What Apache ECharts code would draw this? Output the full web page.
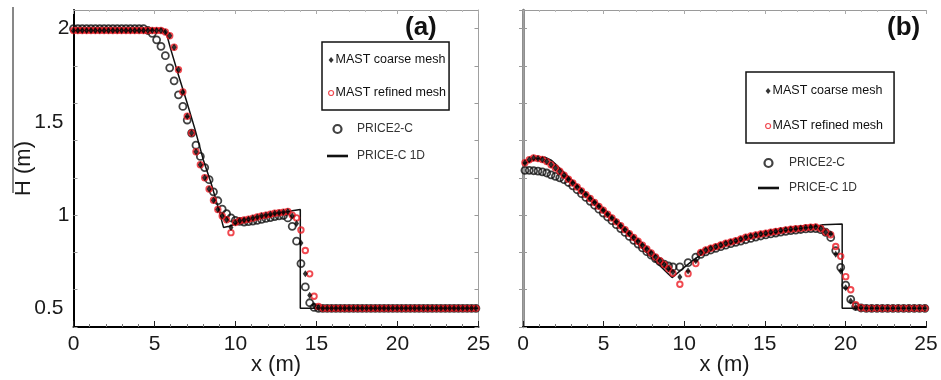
<!DOCTYPE html>
<html>
<head>
<meta charset="utf-8">
<script src="https://cdn.jsdelivr.net/npm/echarts@6.0.0/dist/echarts.min.js"></script>
<style>
  html, body { margin: 0; padding: 0; background: #fff; }
  #chart { width: 941px; height: 380px; }
</style>
</head>
<body>
<div id="chart"></div>
<script>
// ---- Panel (a): dam-break water depth H along the channel ----
const gridA = [0,0.27,0.54,0.81,1.08,1.35,1.62,1.89,2.16,2.43,2.7,2.97,3.24,3.51,3.78,4.05,4.32,4.59,4.86,5.13,
  5.4,5.67,5.94,6.21,6.48,6.75,7.02,7.29,7.56,7.83,8.1,8.37,8.64,8.91,9.18,9.45,9.72,9.99,10.26,10.53,
  10.8,11.07,11.34,11.61,11.88,12.15,12.42,12.69,12.96,13.23,13.5,13.77,14.04,14.31,14.58,14.85,15.12,15.39,15.66,15.93,
  16.2,16.47,16.74,17.01,17.28,17.55,17.82,18.09,18.36,18.63,18.9,19.17,19.44,19.71,19.98,20.25,20.52,20.79,21.06,21.33,
  21.6,21.87,22.14,22.41,22.68,22.95,23.22,23.49,23.76,24.03,24.3,24.57,24.84];

const coarseA = [1.99,1.99,1.99,1.99,1.99,1.99,1.99,1.99,1.99,1.99,1.99,1.99,1.99,1.99,1.99,1.99,1.99,1.99,1.99,1.99,1.99,
  1.982,1.962,1.9,1.78,1.66,1.53,1.44,1.34,1.27,1.2,1.14,1.08,1.03,0.995,0.975,0.934,0.96,0.97,0.974,
  0.978,0.984,0.99,0.996,1.0,1.005,1.01,1.013,1.016,1.02,0.995,0.955,0.85,0.685,0.57,0.515,0.503,
  0.5,0.5,0.5,0.5,0.5,0.5,0.5,0.5,0.5,0.5,0.5,0.5,0.5,0.5,0.5,0.5,0.5,0.5,0.5,0.5,0.5,0.5,
  0.5,0.5,0.5,0.5,0.5,0.5,0.5,0.5,0.5,0.5,0.5,0.5,0.5,0.5,0.5,0.5];

const refinedA = [1.99,1.99,1.99,1.99,1.99,1.99,1.99,1.99,1.99,1.99,1.99,1.99,1.99,1.99,1.99,1.99,1.99,1.99,1.99,1.99,1.99,
  1.982,1.962,1.9,1.78,1.66,1.53,1.44,1.34,1.27,1.2,1.14,1.08,1.03,0.995,0.975,0.906,0.96,0.97,0.974,
  0.978,0.984,0.99,0.996,1.0,1.005,1.01,1.013,1.016,1.02,1.0,0.985,0.92,0.81,0.685,0.565,0.51,
  0.5,0.5,0.5,0.5,0.5,0.5,0.5,0.5,0.5,0.5,0.5,0.5,0.5,0.5,0.5,0.5,0.5,0.5,0.5,0.5,0.5,0.5,
  0.5,0.5,0.5,0.5,0.5,0.5,0.5,0.5,0.5,0.5,0.5,0.5,0.5,0.5,0.5,0.5];

const price2A = [2.0,2.0,2.0,2.0,2.0,2.0,2.0,2.0,2.0,2.0,2.0,2.0,2.0,2.0,2.0,2.0,2.0,
  1.99,1.975,1.94,1.905,1.855,1.79,1.72,1.645,1.583,1.51,1.44,1.375,1.315,1.255,1.19,1.125,1.077,1.032,1.008,
  0.985,0.972,0.966,0.963,0.965,0.968,0.972,0.977,0.982,0.987,0.992,0.996,0.998,0.985,0.94,0.86,0.74,0.615,0.53,0.505,
  0.5,0.5,0.5,0.5,0.5,0.5,0.5,0.5,0.5,0.5,0.5,0.5,0.5,0.5,0.5,0.5,0.5,0.5,0.5,0.5,0.5,0.5,0.5,
  0.5,0.5,0.5,0.5,0.5,0.5,0.5,0.5,0.5,0.5,0.5,0.5,0.5,0.5,0.5,0.5,0.5,0.5];

const lineA = [[0,2],[5.55,2],[5.75,1.97],[6.0,1.89],[6.5,1.745],[7.0,1.605],[7.5,1.46],[8.0,1.3],[8.5,1.17],
  [9.0,1.02],[9.26,0.934],[9.6,0.94],[10,0.952],[10.5,0.963],[11,0.973],[11.5,0.983],[12,0.993],[12.5,1.003],
  [13,1.013],[13.5,1.023],[14,1.03],[14,0.5],[25,0.5]];

// ---- Panel (b) ----
const gridB = [0.12,0.39,0.66,0.93,1.2,1.47,1.74,2.01,2.28,2.55,2.82,3.09,3.36,3.63,3.9,4.17,4.44,4.71,4.98,5.25,
  5.52,5.79,6.06,6.33,6.6,6.87,7.14,7.41,7.68,7.95,8.22,8.49,8.76,9.03,9.3,
  9.73,10.24,10.72,
  11.03,11.34,11.65,11.96,12.27,12.58,12.89,13.2,13.51,13.82,14.13,14.44,14.75,15.06,15.37,15.68,15.99,16.3,
  16.61,16.92,17.23,17.54,17.85,18.16,18.47,18.78,19.09,19.4,19.71,20.02,20.33,20.64,
  20.97,21.3,21.63,21.96,22.29,22.62,22.95,23.28,23.61,23.94,24.27,24.6,24.93];

const refinedB = [1.281,1.297,1.306,1.303,1.298,1.287,1.27,1.253,1.235,1.214,1.193,1.172,1.151,1.13,1.11,1.089,1.068,1.047,1.026,1.005,
  0.985,0.964,0.943,0.922,0.901,0.88,0.86,0.839,0.818,0.797,0.776,0.755,0.735,0.712,0.688,
  0.629,0.686,0.74,
  0.8,0.813,0.822,0.831,0.84,0.849,0.856,0.863,0.872,0.881,0.888,0.894,0.899,0.903,0.908,0.912,0.917,0.921,
  0.924,0.927,0.929,0.932,0.935,0.936,0.928,0.908,0.895,0.832,0.779,0.67,0.6,0.52,
  0.503,0.5,0.5,0.5,0.5,0.5,0.5,0.5,0.5,0.5,0.5,0.5,0.5];

const coarseB = [1.281,1.297,1.306,1.303,1.298,1.287,1.27,1.253,1.235,1.214,1.193,1.172,1.151,1.13,1.11,1.089,1.068,1.047,1.026,1.005,
  0.985,0.964,0.943,0.922,0.901,0.88,0.86,0.839,0.818,0.797,0.776,0.755,0.735,0.712,0.695,
  0.668,0.7,0.755,
  0.8,0.813,0.822,0.831,0.84,0.849,0.856,0.863,0.872,0.881,0.888,0.894,0.899,0.903,0.908,0.912,0.917,0.921,
  0.924,0.927,0.929,0.932,0.935,0.936,0.928,0.908,0.9,0.79,0.7,0.61,0.54,0.506,
  0.503,0.5,0.5,0.5,0.5,0.5,0.5,0.5,0.5,0.5,0.5,0.5,0.5];

const price2B = [1.24,1.24,1.238,1.236,1.232,1.226,1.216,1.208,1.2,1.19,1.175,1.157,1.136,1.115,1.095,1.074,1.053,1.032,1.011,0.99,
  0.97,0.949,0.928,0.907,0.886,0.865,0.845,0.824,0.804,0.785,0.767,0.75,0.737,0.727,0.722,
  0.722,0.745,0.775,
  0.79,0.803,0.813,0.822,0.831,0.839,0.847,0.854,0.861,0.868,0.875,0.882,0.888,0.894,0.899,0.904,0.909,0.913,
  0.917,0.92,0.923,0.926,0.928,0.928,0.922,0.908,0.88,0.81,0.72,0.625,0.548,0.51,
  0.502,0.5,0.5,0.5,0.5,0.5,0.5,0.5,0.5,0.5,0.5,0.5,0.5];

const lineB = [[0,1.275],[0.5,1.29],[1.0,1.305],[1.36,1.311],[1.78,1.293],[2,1.275],[3,1.191],[4,1.107],[5,1.023],
  [6,0.939],[7,0.855],[8,0.77],[9,0.686],[9.25,0.665],[9.6,0.69],[10,0.72],[10.5,0.755],[11,0.785],[11.5,0.805],
  [12,0.822],[13,0.85],[14,0.875],[15,0.895],[16,0.912],[17,0.925],[18,0.937],[18.6,0.948],[19.8,0.952],[19.8,0.5],[25,0.5]];

const xTicks = { min: 0, max: 25, step: 5 };
const yRange = { min: 0.4, max: 2.1 };
const names = { coarse: 'MAST coarse mesh', refined: 'MAST refined mesh', price2: 'PRICE2-C', price1d: 'PRICE-C 1D' };

const FONT = "'Liberation Sans', Arial, Helvetica, sans-serif";
const RED = '#ec1c24';
const INK = '#1a1a1a';

const zip = (xs, ys) => xs.map((x, i) => [x, ys[i]]);

function bottomX(gi) {
  return {
    gridIndex: gi, type: 'value', position: 'bottom',
    min: xTicks.min, max: xTicks.max, interval: xTicks.step,
    axisLine: { lineStyle: { color: '#000', width: 2 } },
    axisTick: { inside: true, length: 6, lineStyle: { color: '#222', width: 1 } },
    minorTick: { show: true, splitNumber: 5, length: 3, lineStyle: { color: '#777', width: 1 } },
    axisLabel: { fontSize: 21, color: INK, margin: 7, fontFamily: FONT },
    splitLine: { show: false },
    name: 'x (m)', nameLocation: 'middle', nameGap: 27, nameMoveOverlap: false,
    nameTextStyle: { fontSize: 22, color: INK, fontFamily: FONT }
  };
}
function topX(gi) {
  return {
    gridIndex: gi, type: 'value', position: 'top',
    min: xTicks.min, max: xTicks.max, interval: xTicks.step,
    axisLine: { lineStyle: { color: '#9a9a9a', width: 1 } },
    axisTick: { inside: true, length: 4, lineStyle: { color: '#aaa' } },
    minorTick: { show: true, splitNumber: 5, length: 2, lineStyle: { color: '#bbb' } },
    axisLabel: { show: false }, splitLine: { show: false }
  };
}
function tickY(gi, pos, lineColor, lineWidth) {
  return {
    gridIndex: gi, type: 'value', position: pos,
    min: yRange.min, max: yRange.max, interval: 0.2,
    axisLine: { show: true, lineStyle: { color: lineColor, width: lineWidth } },
    axisTick: { inside: true, length: 4, lineStyle: { color: '#999' } },
    axisLabel: { show: false }, splitLine: { show: false }
  };
}
function labelY(gi) {
  return {
    gridIndex: gi, type: 'value', position: 'left',
    min: yRange.min, max: yRange.max, interval: 0.1,
    axisLine: { show: false }, axisTick: { show: false }, splitLine: { show: false },
    axisLabel: {
      fontSize: 21, color: INK, margin: 4, fontFamily: FONT,
      formatter: function (v) {
        const k = Math.round(v * 10);
        if (k % 5 !== 0) return '';
        const t = String(k / 10);
        return t.length > 1 ? '{w|' + t + '}' : t;
      },
      rich: { w: { fontSize: 21, color: INK, fontFamily: FONT, padding: [0, 6, 0, 0] } }
    },
    name: 'H (m)', nameLocation: 'middle', nameRotate: 90, nameGap: 39, nameMoveOverlap: false,
    nameTextStyle: { fontSize: 22, color: INK, fontFamily: FONT }
  };
}

function panelSeries(xi, yi, line, xs, p2, fine, coarse) {
  return [
    { type: 'line', name: names.price1d, xAxisIndex: xi, yAxisIndex: yi, data: line,
      symbol: 'none', itemStyle: { color: '#111' }, lineStyle: { color: '#111', width: 1.5 }, silent: true, z: 2 },
    { type: 'scatter', name: names.price2, xAxisIndex: xi, yAxisIndex: yi, data: zip(xs, p2),
      symbol: 'circle', symbolSize: 7,
      itemStyle: { color: 'rgba(0,0,0,0)', borderColor: '#111', borderWidth: 1.8 }, silent: true, z: 3 },
    { type: 'scatter', name: names.refined, xAxisIndex: xi, yAxisIndex: yi, data: zip(xs, fine),
      symbol: 'circle', symbolSize: 5.5,
      itemStyle: { color: 'rgba(0,0,0,0)', borderColor: RED, borderWidth: 1.9 }, silent: true, z: 4 },
    { type: 'scatter', name: names.coarse, xAxisIndex: xi, yAxisIndex: yi, data: zip(xs, coarse),
      symbol: 'diamond', symbolSize: [5, 7],
      itemStyle: { color: '#000' }, silent: true, z: 5 }
  ];
}

function boxedLegend(left, top, pad, gap) {
  return {
    left: left, top: top, orient: 'vertical', selectedMode: false,
    itemWidth: 5, itemHeight: 6, itemGap: gap, padding: pad,
    borderColor: '#111', borderWidth: 1.5, backgroundColor: '#fff',
    textStyle: { fontFamily: FONT, fontSize: 12.5, color: '#111', lineHeight: 16, padding: [0, 0, 0, -3] },
    data: [
      { name: names.coarse, icon: 'diamond', itemStyle: { color: '#000', borderWidth: 0 } },
      { name: names.refined, icon: 'circle',
        itemStyle: { color: 'rgba(0,0,0,0)', borderColor: RED, borderWidth: 1.2 } }
    ]
  };
}
function plainLegend(left, top, gap, textPad) {
  return {
    left: left, top: top, orient: 'vertical', selectedMode: false,
    itemWidth: 21, itemHeight: 8, itemGap: gap, padding: 0,
    textStyle: { fontFamily: FONT, fontSize: 12, color: '#333', lineHeight: 14, padding: [0, 0, 0, textPad] },
    data: [
      { name: names.price2, icon: 'circle',
        itemStyle: { color: 'rgba(0,0,0,0)', borderColor: '#111', borderWidth: 2.2 } },
      { name: names.price1d, icon: 'path://M0,0H21V2.6H0Z',
        itemStyle: { color: '#111', borderWidth: 0 } }
    ]
  };
}

const option = {
  animation: false,
  backgroundColor: '#fff',
  textStyle: { fontFamily: FONT },
  grid: [
    { left: 73.5, top: 10, width: 405, height: 317, outerBoundsMode: 'none' },
    { left: 523, top: 10, width: 403, height: 317, outerBoundsMode: 'none' }
  ],
  xAxis: [bottomX(0), topX(0), bottomX(1), topX(1)],
  yAxis: [
    tickY(0, 'left', '#000', 2), labelY(0), tickY(0, 'right', '#a0a0a0', 1),
    tickY(1, 'left', '#6a6a6a', 2.5), tickY(1, 'right', '#a0a0a0', 1)
  ],
  title: [
    { text: '(a)', left: 400, top: 10, textStyle: { fontSize: 26, fontWeight: 'bold', color: '#111', fontFamily: FONT } },
    { text: '(b)', left: 882, top: 10, textStyle: { fontSize: 26, fontWeight: 'bold', color: '#111', fontFamily: FONT } }
  ],
  legend: [
    boxedLegend(322, 42, [10, 3, 9, 6], 17),
    plainLegend(327, 122, 13, 4),
    boxedLegend(746, 72, [11, 11, 9, 19], 19),
    plainLegend(758, 156, 11, 5)
  ],
  graphic: [
    { type: 'line', shape: { x1: 13, y1: 7, x2: 13, y2: 193 }, style: { stroke: '#111', lineWidth: 1 } }
  ],
  series: [].concat(
    panelSeries(0, 0, lineA, gridA, price2A, refinedA, coarseA),
    panelSeries(2, 3, lineB, gridB, price2B, refinedB, coarseB)
  )
};

const chart = echarts.init(document.getElementById('chart'), null, { renderer: 'canvas' });
chart.setOption(option);
</script>
</body>
</html>
